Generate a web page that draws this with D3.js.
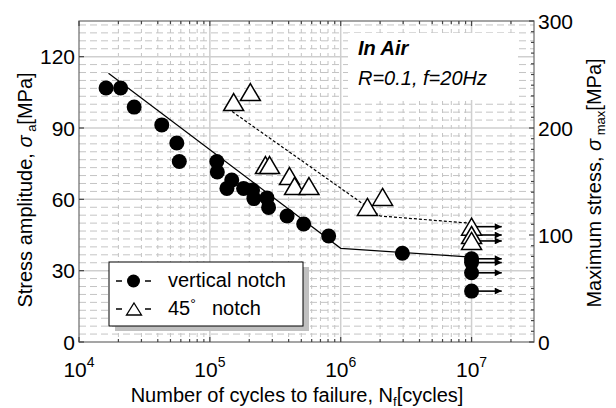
<!DOCTYPE html>
<html>
<head>
<meta charset="utf-8">
<script src="https://cdn.jsdelivr.net/npm/d3@7"></script>
<style>
  html, body { margin: 0; padding: 0; background: #fff; }
  svg { display: block; font-family: "Liberation Sans", Arial, sans-serif; }
</style>
</head>
<body>
<svg id="chart" width="616" height="408"></svg>
<script>
// vertical notch (filled circles), cycles and stress amplitude [MPa]
const vertCycles = [1.61e4, 2.08e4, 2.64e4, 4.29e4, 5.59e4, 5.84e4, 1.13e5, 1.14e5, 1.47e5, 1.35e5,
  1.81e5, 2.12e5, 2.17e5, 2.73e5, 2.81e5, 3.89e5, 5.21e5, 8.09e5, 2.96e6];
const vertStress = [106.8, 106.8, 98.8, 91.3, 83.7, 75.9, 75.9, 71.5, 68.1, 64.6,
  64.6, 63.9, 60.3, 60.6, 56.6, 53.0, 49.6, 44.6, 37.3];
// runouts (no failure) at 1e7 cycles
const vertRunoutStress = [35.0, 33.4, 29.1, 21.4];

// 45 deg notch (open triangles)
const diagCycles = [1.52e5, 2.04e5, 2.66e5, 2.86e5, 4.06e5, 4.44e5, 5.72e5, 1.60e6, 2.09e6];
const diagStress = [100.9, 105.1, 74.4, 74.4, 69.8, 65.6, 65.6, 56.8, 61.0];
const diagRunoutStress = [48.5, 45.0, 42.5];
const runoutCycles = 1e7;

// fitted S-N curves
const vertFitCycles = [1.68e4, 1e6, 1e7];
const vertFitStress = [113, 39.4, 35.7];
const diagFitCycles = [1.48e5, 2e6, 1e7];
const diagFitStress = [96.9, 53.0, 49.9];

const xTicks = [1e4, 1e5, 1e6, 1e7];
const yLeftTicks = [0, 30, 60, 90, 120];
const yRightTicks = [0, 100, 200, 300];

const svg = d3.select('#chart');
const pL = 79, pR = 534, pT = 21, pB = 342;

const x = d3.scaleLog().domain([1e4, 3e7]).range([pL, pR]);
const yL = d3.scaleLinear().domain([0, 135]).range([pB, pT]);
const yR = d3.scaleLinear().domain([0, 300]).range([pB, pT]);

// grid
const grid = svg.append('g');
const minorX = [];
[1e4, 1e5, 1e6, 1e7].forEach(d => {
  for (let k = 2; k <= 9; k++) if (d * k < 3e7) minorX.push(d * k);
});
const minorY = d3.range(0, 135, 10 / 3).filter(v => v % 30 > 0.5 && v % 30 < 29.5);

grid.selectAll('.hmin').data(minorY).enter().append('line')
  .attr('x1', pL).attr('x2', pR)
  .attr('y1', d => yL(d)).attr('y2', d => yL(d))
  .attr('stroke', '#c4c4c4').attr('stroke-width', 1)
  .attr('stroke-dasharray', '7,4');
grid.selectAll('.vmin').data(minorX).enter().append('line')
  .attr('x1', d => x(d)).attr('x2', d => x(d))
  .attr('y1', pT).attr('y2', pB)
  .attr('stroke', '#c4c4c4').attr('stroke-width', 1)
  .attr('stroke-dasharray', '4,4');
grid.selectAll('.hmaj').data(yLeftTicks.slice(1)).enter().append('line')
  .attr('x1', pL).attr('x2', pR)
  .attr('y1', d => yL(d)).attr('y2', d => yL(d))
  .attr('stroke', '#cfcfcf').attr('stroke-width', 1.5);
grid.selectAll('.vmaj').data(xTicks.slice(1)).enter().append('line')
  .attr('x1', d => x(d)).attr('x2', d => x(d))
  .attr('y1', pT).attr('y2', pB)
  .attr('stroke', '#cfcfcf').attr('stroke-width', 1.5);

// white box behind the condition text
svg.append('rect').attr('x', 348).attr('y', 33).attr('width', 170).attr('height', 67)
  .attr('fill', '#fff');

// frame and ticks
const axisCol = '#6a6a6a';
svg.append('rect').attr('x', pL).attr('y', pT)
  .attr('width', pR - pL).attr('height', pB - pT)
  .attr('fill', 'none').attr('stroke', axisCol).attr('stroke-width', 1.2);

const ticks = svg.append('g').attr('stroke', '#444').attr('stroke-width', 1.2);
yLeftTicks.forEach(v => {
  ticks.append('line').attr('x1', pL).attr('x2', pL + 5).attr('y1', yL(v)).attr('y2', yL(v));
});
d3.range(0, 301, 10).forEach(v => {
  const len = v % 100 === 0 ? 5 : 3;
  ticks.append('line').attr('x1', pR - len).attr('x2', pR).attr('y1', yR(v)).attr('y2', yR(v));
});
minorX.concat(xTicks).forEach(v => {
  const len = xTicks.includes(v) ? 5 : 3;
  ticks.append('line').attr('x1', x(v)).attr('x2', x(v)).attr('y1', pB).attr('y2', pB - len);
  ticks.append('line').attr('x1', x(v)).attr('x2', x(v)).attr('y1', pT).attr('y2', pT + len);
});

// tick labels
const fs = 21;
svg.selectAll('.yl').data(yLeftTicks).enter().append('text')
  .attr('x', 75).attr('y', d => yL(d)).attr('dy', '0.36em')
  .attr('text-anchor', 'end').attr('font-size', fs).text(d => d);
svg.selectAll('.yr').data(yRightTicks).enter().append('text')
  .attr('x', 538).attr('y', d => yR(d)).attr('dy', '0.36em')
  .attr('font-size', fs).text(d => d);
const xl = svg.selectAll('.xl').data(xTicks).enter().append('text')
  .attr('x', d => x(d)).attr('y', 377).attr('text-anchor', 'middle').attr('font-size', fs);
xl.append('tspan').text('10');
xl.append('tspan').attr('dy', -10).attr('font-size', 14).text(d => Math.round(Math.log10(d)));

// axis titles
const xt = svg.append('text').attr('x', 297).attr('y', 402).attr('text-anchor', 'middle').attr('font-size', 20);
xt.append('tspan').text('Number of cycles to failure, N');
xt.append('tspan').attr('font-size', 13).attr('dy', 4).text('f');
xt.append('tspan').attr('dy', -4).text('[cycles]');

const ylt = svg.append('text').attr('transform', 'translate(32,190) rotate(-90)')
  .attr('text-anchor', 'middle').attr('font-size', 20);
ylt.append('tspan').text('Stress amplitude, ');
ylt.append('tspan').attr('font-style', 'italic').text('σ');
ylt.append('tspan').attr('font-size', 13).attr('dy', 4).text(' a');
ylt.append('tspan').attr('dy', -4).text('[MPa]');

const yrt = svg.append('text').attr('transform', 'translate(601,183) rotate(-90)')
  .attr('text-anchor', 'middle').attr('font-size', 20);
yrt.append('tspan').text('Maximum stress, ');
yrt.append('tspan').attr('font-style', 'italic').text('σ');
yrt.append('tspan').attr('font-size', 13).attr('dy', 4).text(' max');
yrt.append('tspan').attr('dy', -4).text('[MPa]');

// condition text
svg.append('text').attr('x', 358).attr('y', 55).attr('font-size', 20)
  .attr('font-weight', 'bold').attr('font-style', 'italic').text('In Air');
svg.append('text').attr('x', 358).attr('y', 85).attr('font-size', 20)
  .attr('font-style', 'italic').text('R=0.1, f=20Hz');

// fit lines
const line = d3.line().x(d => x(d[0])).y(d => yL(d[1]));
svg.append('path').datum(d3.zip(vertFitCycles, vertFitStress)).attr('d', line)
  .attr('fill', 'none').attr('stroke', '#000').attr('stroke-width', 1.2);
svg.append('path').datum(d3.zip(diagFitCycles, diagFitStress)).attr('d', line)
  .attr('fill', 'none').attr('stroke', '#000').attr('stroke-width', 1.2)
  .attr('stroke-dasharray', '3,2');

// runout arrows
svg.append('defs').append('marker').attr('id', 'ah')
  .attr('viewBox', '0 0 10 10').attr('refX', 10).attr('refY', 5)
  .attr('markerUnits', 'userSpaceOnUse').attr('markerWidth', 9).attr('markerHeight', 7)
  .attr('orient', 'auto')
  .append('path').attr('d', 'M0,0L10,5L0,10Z').attr('fill', '#000');
const arrowEnd = 1.7e7;
svg.selectAll('.arr').data(vertRunoutStress.concat(diagRunoutStress)).enter().append('line')
  .attr('x1', x(runoutCycles)).attr('x2', x(arrowEnd))
  .attr('y1', d => yL(d)).attr('y2', d => yL(d))
  .attr('stroke', '#000').attr('stroke-width', 1.6).attr('marker-end', 'url(#ah)');

// markers
const tri = (cx, cy, w, h) => `M${cx},${cy - h / 2}L${cx + w / 2},${cy + h / 2}L${cx - w / 2},${cy + h / 2}Z`;
const diagPts = d3.zip(diagCycles, diagStress).concat(diagRunoutStress.map(s => [runoutCycles, s]));
svg.selectAll('.tri').data(diagPts).enter().append('path')
  .attr('d', d => tri(x(d[0]), yL(d[1]), 20, 17))
  .attr('fill', '#fff').attr('stroke', '#000').attr('stroke-width', 1.5);
const vertPts = d3.zip(vertCycles, vertStress).concat(vertRunoutStress.map(s => [runoutCycles, s]));
svg.selectAll('.dot').data(vertPts).enter().append('circle')
  .attr('cx', d => x(d[0])).attr('cy', d => yL(d[1])).attr('r', 7.5).attr('fill', '#000');

// legend
const lg = svg.append('g');
lg.append('rect').attr('x', 115).attr('y', 267).attr('width', 194).attr('height', 64).attr('fill', '#c0c0c0');
lg.append('rect').attr('x', 109).attr('y', 262).attr('width', 194).attr('height', 64)
  .attr('fill', '#fff').attr('stroke', '#000').attr('stroke-width', 1);
[[281, 'circle'], [309, 'tri']].forEach(([yy, kind]) => {
  lg.append('line').attr('x1', 116).attr('x2', 122).attr('y1', yy).attr('y2', yy).attr('stroke', '#000').attr('stroke-width', 1.5);
  lg.append('line').attr('x1', 145).attr('x2', 151).attr('y1', yy).attr('y2', yy).attr('stroke', '#000').attr('stroke-width', 1.5);
  if (kind === 'circle') lg.append('circle').attr('cx', 133.5).attr('cy', yy).attr('r', 6.5).attr('fill', '#000');
  else lg.append('path').attr('d', tri(134, yy, 15, 12)).attr('fill', '#fff').attr('stroke', '#000').attr('stroke-width', 1.3);
});
lg.append('text').attr('x', 168).attr('y', 287).attr('font-size', 20).text('vertical notch');
const l2 = lg.append('text').attr('x', 168).attr('y', 315).attr('font-size', 20);
l2.append('tspan').text('45');
l2.append('tspan').attr('font-size', 14).attr('dy', -6).text('°');
l2.append('tspan').attr('x', 212).attr('dy', 6).text('notch');
</script>
</body>
</html>
